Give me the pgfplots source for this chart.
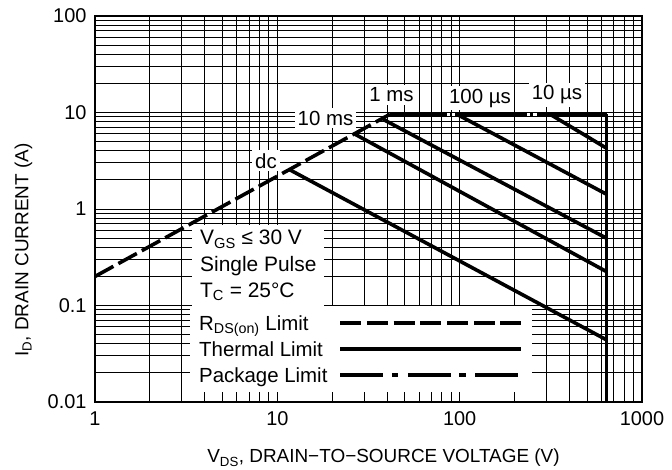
\documentclass[border=0pt]{standalone}
\usepackage{fontspec}
\setmainfont{Liberation Sans}
\usepackage{pgfplots}
\pgfplotsset{compat=1.18}
\begin{document}
\begin{tikzpicture}
\path[use as bounding box] (-95bp,-68bp) rectangle (577bp,402bp);
\begin{axis}[
  at={(0,0)}, anchor=south west,
  scale only axis, width=547bp, height=386bp,
  xmode=log, ymode=log,
  xmin=1, xmax=1000, ymin=0.01, ymax=100,
  xtick={1,10,100,1000}, xticklabels={1,10,100,1000},
  ytick={0.01,0.1,1,10,100}, yticklabels={0.01,0.1,1,10,100},
  /pgf/number format/assume math mode=true,
  grid=both,
  major grid style={black, line width=1bp},
  minor grid style={black, line width=1bp},
  axis line style={line width=2.4bp},
  tick style={black, line width=1bp},
  major tick length=8bp, minor tick length=8bp,
  tick label style={font=\fontsize{20}{24}\selectfont},
  xticklabel style={yshift=-6bp},
  yticklabel style={xshift=-5bp},
  xlabel={V\textsubscript{DS}, DRAIN−TO−SOURCE VOLTAGE (V)},
  ylabel={I\textsubscript{D}, DRAIN CURRENT (A)},
  label style={font=\fontsize{19}{23}\selectfont},
  xlabel style={at={(axis description cs:0.5274,-0.158)}, anchor=base},
  ylabel style={at={(axis description cs:-0.1219,0.3938)}, anchor=base},
  legend cell align=left,
  legend plot pos=right,
  legend image code/.code={\draw[#1] (0bp,0bp) -- (181bp,0bp);},
  legend style={at={(axis description cs:0.1737,0.2487)}, anchor=north west,
    draw=none, fill=white, inner xsep=9bp, inner ysep=4bp,
    font=\fontsize{20.5}{24}\selectfont, column sep=11bp, row sep=0pt,
    nodes={inner xsep=0pt, inner ysep=3bp, text height=17bp, text depth=3bp}},
  thermal/.style={black, line width=3.6bp, line cap=butt},
]
\addplot[black, line width=3.6bp, dash pattern=on 21bp off 5.7bp] coordinates {(1,0.2) (41.5,9.6)};
\addlegendentry{R\textsubscript{DS(on)} Limit}
\addplot[thermal] coordinates {(11.7,2.55) (640,0.044)};
\addlegendentry{Thermal Limit}
\addplot[thermal, forget plot] coordinates {(26.7,5.95) (640,0.224)};
\addplot[thermal, forget plot] coordinates {(38,8.5) (640,0.497)};
\addplot[thermal, forget plot] coordinates {(96.4,9.6) (640,1.42)};
\addplot[thermal, forget plot] coordinates {(313,9.6) (640,4.26)};
\addplot[thermal, forget plot] coordinates {(640,9.6) (640,0.01)};
\addplot[black, line width=3.6bp, forget plot, dash pattern=on 57bp off 3bp on 2bp off 3bp on 72bp off 3bp on 3bp off 4bp on 200bp] coordinates {(41.5,9.6) (640,9.6)};
\addlegendimage{black, line width=3.6bp, dash pattern=on 43bp off 8.5bp on 6.5bp off 9.5bp}
\addlegendentry{Package Limit}
\begin{scope}[every node/.style={fill=white, inner sep=3bp, anchor=base, font=\fontsize{20.5}{24}\selectfont}]
\node at (axis description cs:0.3126,0.6062) {dc};
\node at (axis description cs:0.4214,0.7176) {10 ms};
\node at (axis description cs:0.5420,0.7772) {1 ms};
\node at (axis description cs:0.7038,0.7746) {100 µs};
\node at (axis description cs:0.8446,0.7824) {10 µs};
\end{scope}
\node[fill=white, anchor=north west, align=left, inner xsep=8bp, inner ysep=5bp,
  minimum height=81bp, font=\fontsize{21}{26.5}\selectfont]
  at (axis description cs:0.1773,0.4585)
  {V\textsubscript{GS} ≤ 30 V\\Single Pulse\\T\textsubscript{C} = 25°C};
\end{axis}
\end{tikzpicture}
\end{document}
